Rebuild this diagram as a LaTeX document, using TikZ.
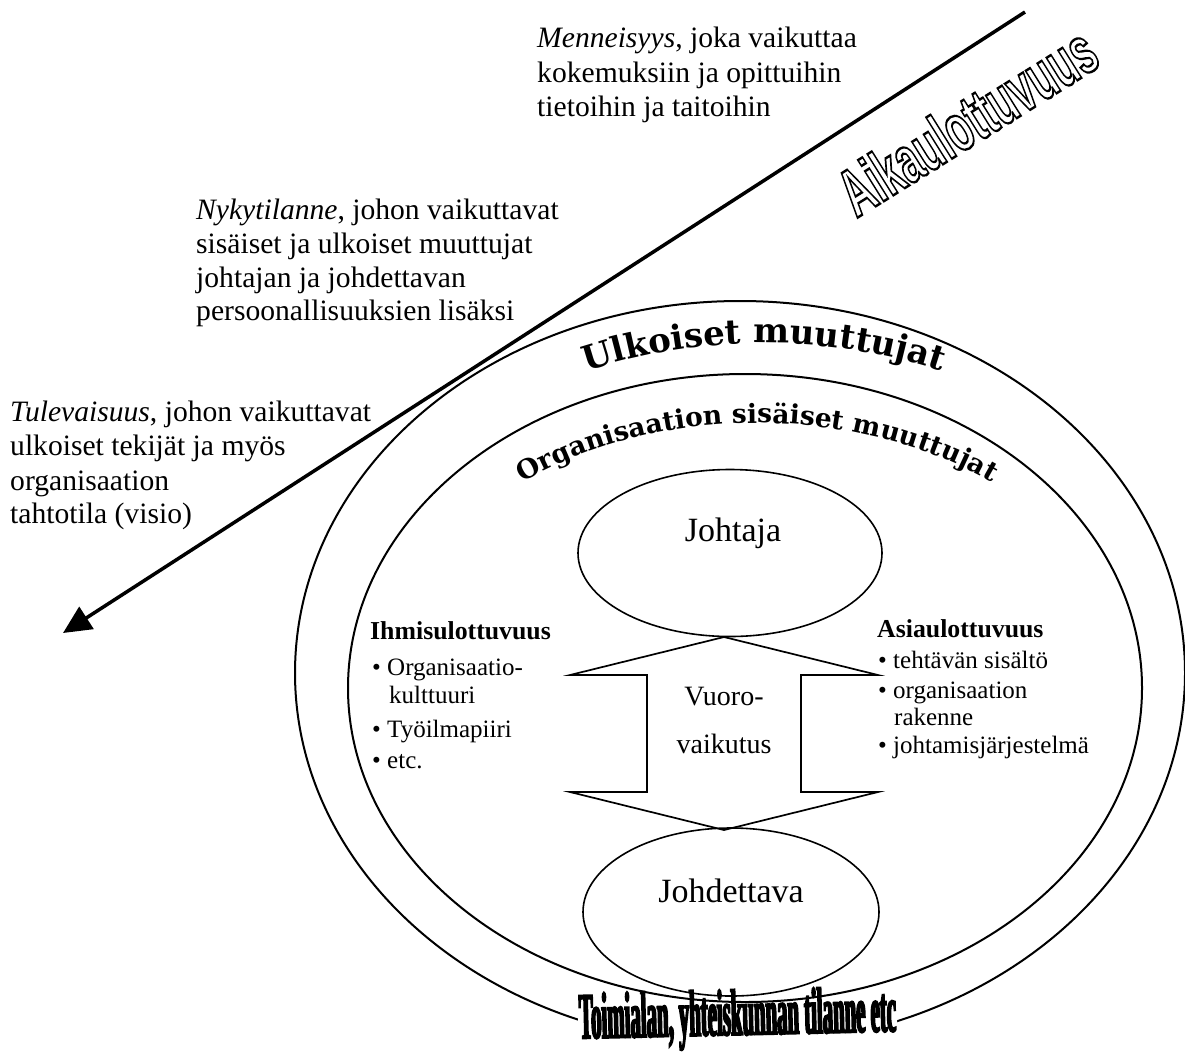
\documentclass[tikz,border=0pt]{standalone}
\usepackage{fontspec}
\setmainfont{Liberation Serif}
\newfontfamily\slabfont{DejaVu Serif}
\newfontfamily\aikafont{Liberation Sans}
\newfontfamily\toimfont{Liberation Serif}[FakeStretch=0.315]
\usetikzlibrary{shapes.geometric,arrows.meta,decorations.text,calc}
\tikzset{
  txt/.style={anchor=base west, inner sep=0pt, font=\fontsize{29.6}{34}\selectfont},
  lst/.style={anchor=base west, inner sep=0pt, font=\fontsize{25}{30}\selectfont},
  lsthead/.style={anchor=base west, inner sep=0pt, font=\fontsize{25.8}{30}\selectfont\bfseries},
  ctext/.style={anchor=base, inner sep=0pt},
  oval/.style={draw, ellipse, inner sep=0pt, line width=1.6pt},
  ring/.style={draw, ellipse, inner sep=0pt, line width=2pt},
  axisline/.style={line width=3.5pt, -{Triangle[length=28pt,width=26pt]}},
  blockarrow/.style={draw, line width=1.7pt, line join=miter},
}
\begin{document}
\begin{tikzpicture}[x=1pt,y=-1pt]
\useasboundingbox (0,0) rectangle (1185,1053);
% outer ring and its bottom label
\node[ring, minimum width=890pt, minimum height=744pt] (outer) at (740,673) {};
\node[anchor=base, fill=white, inner sep=1pt, rotate=1.3] (toim) at (738,1035)
  {\toimfont\bfseries\fontsize{66}{66}\selectfont\special{pdf:literal direct q 2 Tr 1.6 w}Toimialan, yhteiskunnan tilanne etc\special{pdf:literal direct Q}};
% inner ring
\node[ring, minimum width=794pt, minimum height=628pt] (inner) at (745,688) {};
% curved labels
\path[decorate, decoration={text along path, text align=center,
  text={|\slabfont\bfseries\fontsize{34}{34}\selectfont|Ulkoiset muuttujat}}]
  ($(764,684)+(235:445 and 341)$) arc[start angle=235, end angle=305, x radius=445, y radius=341];
\path[decorate, decoration={text along path, text align=center,
  text={|\slabfont\bfseries\fontsize{26.5}{26.5}\selectfont|Organisaation sisäiset muuttujat}}]
  ($(757,685)+(220:370 and 262)$) arc[start angle=220, end angle=320, x radius=370, y radius=262];
% leader and led
\node[oval, minimum width=304pt, minimum height=167pt] (johtaja) at (730,553) {};
\node[ctext, font=\fontsize{34}{40}\selectfont] (tjohtaja) at (733,541) {Johtaja};
\node[oval, minimum width=296pt, minimum height=168pt] (johdettava) at (731,912) {};
\node[ctext, font=\fontsize{34}{40}\selectfont] (tjohdettava) at (731,902) {Johdettava};
% interaction double arrow
\coordinate (tipA) at (724,637);
\coordinate (tipB) at (724,830);
\draw[blockarrow] (tipA) -- (878,675) -- (801,675) -- (801,792) -- (878,792) -- (tipB)
  -- (570,792) -- (647,792) -- (647,675) -- (570,675) -- cycle;
\node[ctext, font=\fontsize{28}{28}\selectfont] (vuoro1) at (724,705) {Vuoro-};
\node[ctext, font=\fontsize{28}{28}\selectfont] (vuoro2) at (724,753) {vaikutus};
% left list
\node[lsthead] (ih) at (370,639) {Ihmisulottuvuus};
\node[lst] (ih1) at (372,675) {• Organisaatio-};
\node[lst] (ih1b) at (389,703) {kulttuuri};
\node[lst] (ih2) at (372,737) {• Työilmapiiri};
\node[lst] (ih3) at (372,768) {• etc.};
% right list
\node[lsthead] (as) at (877,637) {Asiaulottuvuus};
\node[lst] (as1) at (878,668) {• tehtävän sisältö};
\node[lst] (as2) at (878,698) {• organisaation};
\node[lst] (as2b) at (894,725) {rakenne};
\node[lst] (as3) at (878,753) {• johtamisjärjestelmä};
% time axis
\coordinate (past) at (1025,12);
\coordinate (future) at (63,633);
\draw[axisline] (past) -- (future);
\node[rotate=32, inner sep=0pt] (aika) at (967,121)
  {\scalebox{0.6}[1]{\aikafont\bfseries\fontsize{67}{67}\selectfont\special{pdf:literal direct q 1 Tr 2.4 w}Aikaulottuvuus\special{pdf:literal direct Q}}};
% time texts
\node[txt] (m1) at (537,47) {\textit{Menneisyys}, joka vaikuttaa};
\node[txt] (m2) at (537,82) {kokemuksiin ja opittuihin};
\node[txt] (m3) at (537,116) {tietoihin ja taitoihin};
\node[txt] (n1) at (196,219) {\textit{Nykytilanne}, johon vaikuttavat};
\node[txt] (n2) at (196,253) {sisäiset ja ulkoiset muuttujat};
\node[txt] (n3) at (196,287) {johtajan ja johdettavan};
\node[txt] (n4) at (196,320) {persoonallisuuksien lisäksi};
\node[txt] (t1) at (10,421) {\textit{Tulevaisuus}, johon vaikuttavat};
\node[txt] (t2) at (10,455) {ulkoiset tekijät ja myös};
\node[txt] (t3) at (10,490) {organisaation};
\node[txt] (t4) at (10,523) {tahtotila (visio)};
\end{tikzpicture}
\end{document}
